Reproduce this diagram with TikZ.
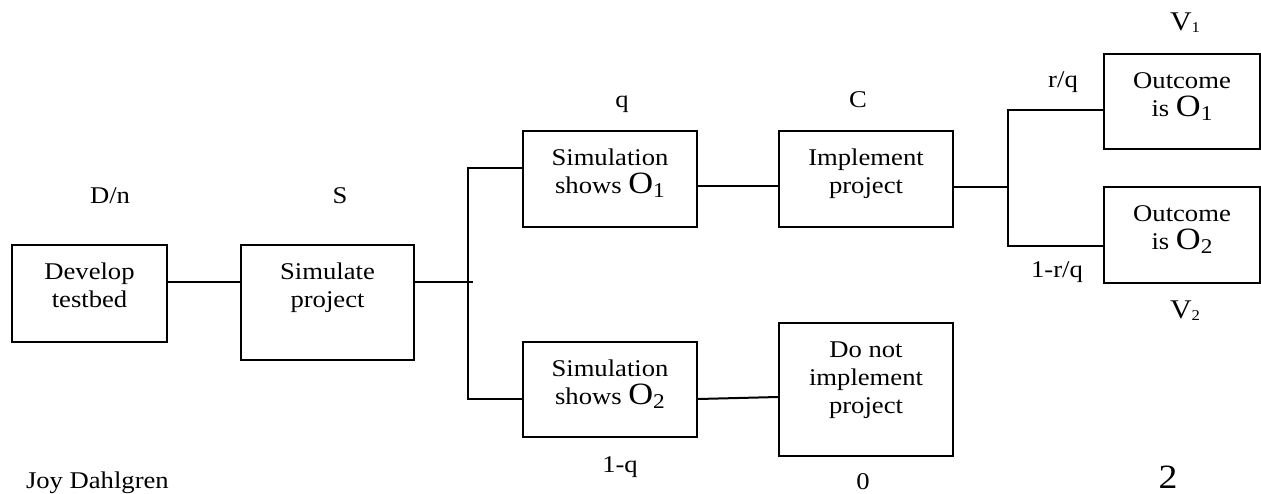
\documentclass[tikz,border=0pt]{standalone}
\usepackage{fontspec}
\setmainfont[FakeStretch=1.11]{Liberation Serif}
\usepackage{tikz}
\usetikzlibrary{positioning}

\newcommand{\boxtext}[3]{\parbox[c][#2][t]{#1}{\centering\rule{0pt}{17pt}#3}}
\newcommand{\Obig}[1]{{\fontsize{15.5}{14}\selectfont O}\raisebox{-2pt}{\fontsize{10.5}{14}\selectfont #1}}
\newcommand{\Vsmall}[1]{{\fontsize{13.5}{14}\selectfont V\raisebox{-1pt}{\fontsize{7.5}{8}\selectfont #1}}}

\begin{document}
\begin{tikzpicture}[x=0.5pt, y=-0.5pt, line width=1pt,
        block/.style={draw, inner sep=0pt, font=\fontsize{12}{14}\selectfont},
        lab/.style={inner sep=0pt, anchor=base, font=\fontsize{12}{14}\selectfont}]
        \useasboundingbox (0,0) rectangle (1261,493);

        \node[block] (dev)    at (89.5,293.5) {\boxtext{77.5pt}{48.5pt}{Develop\\testbed}};
        \node[block] (sim)    at (327.5,302.5) {\boxtext{86.5pt}{57.5pt}{Simulate\\project}};
        \node[block] (so1)    at (610,179) {\boxtext{87pt}{48pt}{Simulation\\shows \Obig{1}}};
        \node[block] (so2)    at (610,389.5) {\boxtext{87pt}{47.5pt}{Simulation\\shows \Obig{2}}};
        \node[block] (impl)   at (866,179) {\boxtext{87pt}{48pt}{Implement\\project}};
        \node[block] (noimpl) at (866,389.5) {\boxtext{87pt}{66.5pt}{Do not\\implement\\project}};
        \node[block] (out1)   at (1182,101.5) {\boxtext{78pt}{47.5pt}{Outcome\\is \Obig{1}}};
        \node[block] (out2)   at (1182,235) {\boxtext{78pt}{48pt}{Outcome\\is \Obig{2}}};

        \node[lab] (dn)   at (110,203) {D/n};
        \node[lab] (s)    at (340,203) {S};
        \node[lab] (q)    at (622,107) {q};
        \node[lab] (c)    at (858,107) {C};
        \node[lab] (v1)   at (1185,30) {\Vsmall{1}};
        \node[lab] (rq)   at (1063,87) {r/q};
        \node[lab] (nrq)  at (1057,277) {1-r/q};
        \node[lab] (v2)   at (1185,318) {\Vsmall{2}};
        \node[lab] (nq)   at (620,472) {1-q};
        \node[lab] (zero) at (863,489) {0};
        \node[lab, font=\fontsize{17}{20}\selectfont] (page) at (1168,488) {2};
        \node[lab, anchor=base west] (author) at (25,488) {Joy Dahlgren};

        \coordinate (j1)    at (468,282);
        \coordinate (j1end) at (473,282);
        \coordinate (b1top) at (468,168);
        \coordinate (b1bot) at (468,399);
        \coordinate (j2)    at (1008,187);
        \coordinate (b2top) at (1008,110);
        \coordinate (b2bot) at (1008,246);

        \draw (dev.east |- j1) -- (sim.west |- j1);
        \draw (sim.east |- j1) -- (j1end);
        \draw (so1.west |- b1top) -- (b1top) -- (b1bot) -- (so2.west |- b1bot);
        \draw (so1.east |- 0,186) -- (impl.west |- 0,186);
        \draw (so2.east |- b1bot) -- (noimpl.west |- 0,397);
        \draw (impl.east |- j2) -- (j2);
        \draw (out1.west |- b2top) -- (b2top) -- (b2bot) -- (out2.west |- b2bot);
    \end{tikzpicture}
\end{document}
